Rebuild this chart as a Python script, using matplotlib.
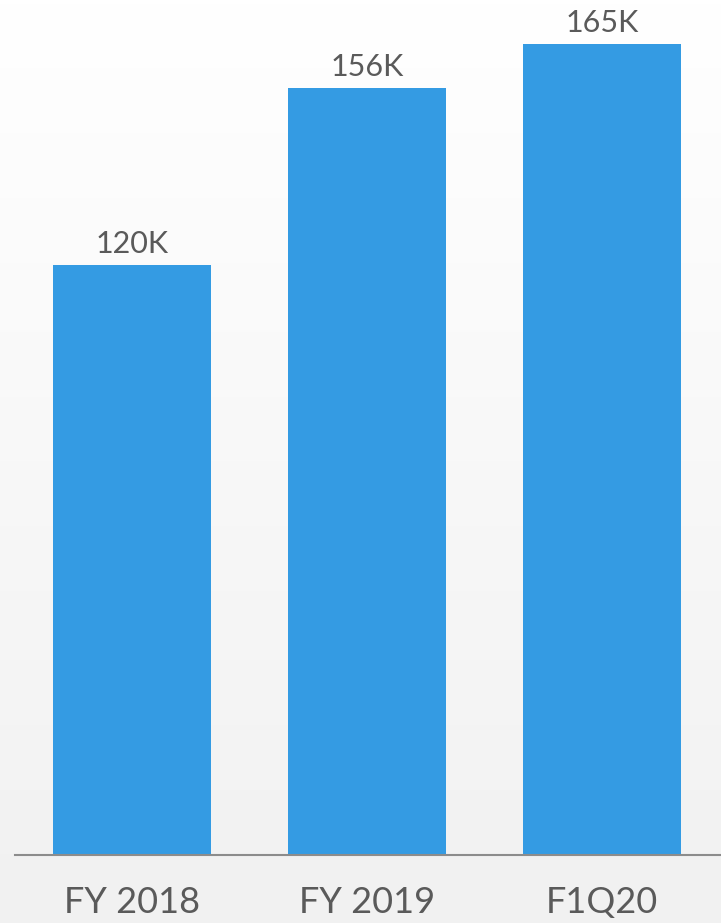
import matplotlib
matplotlib.use("Agg")
import matplotlib.pyplot as plt
import numpy as np

categories = ["FY 2018", "FY 2019", "F1Q20"]
values = [120, 156, 165]
value_labels = ["120K", "156K", "165K"]

W, H = 721, 923
dpi = 100
fig = plt.figure(figsize=(W / dpi, H / dpi), dpi=dpi)

# background gradient
bg = fig.add_axes([0, 0, 1, 1])
grad = np.linspace(1.0, 0.0, 256).reshape(-1, 1)
top = np.array([1.0, 1.0, 1.0])
bot = np.array([0xf1, 0xf1, 0xf1]) / 255
img = (grad[..., None] * top + (1 - grad[..., None]) * bot)
bg.imshow(img, aspect="auto", extent=[0, 1, 0, 1])
bg.set_axis_off()

base_y = 855
ax = fig.add_axes([15 / W, (H - base_y) / H, (W - 15) / W, base_y / H])
ax.patch.set_alpha(0)
x = np.arange(len(categories))
bars = ax.bar(x, values, width=0.672, color="#349be3")
ax.set_xlim(-0.498, 2.506)
ax.set_ylim(0, base_y / 4.915)

font = ["Lato", "DejaVu Sans"]
for xi, v, lab in zip(x, values, value_labels):
    ax.annotate(lab, (xi, v), xytext=(0, 5), textcoords="offset points",
                ha="center", va="bottom", fontsize=22, color="#5a5a5a",
                family=font)

ax.set_xticks(x)
ax.set_xticklabels(categories, fontsize=26, color="#5a5a5a", family=font)
ax.tick_params(axis="x", length=0, pad=22)
ax.set_yticks([])
for s in ["top", "right", "left"]:
    ax.spines[s].set_visible(False)
ax.spines["bottom"].set_color("#8c8c8c")
ax.spines["bottom"].set_linewidth(1.5)

fig.savefig("out.png", dpi=dpi)
